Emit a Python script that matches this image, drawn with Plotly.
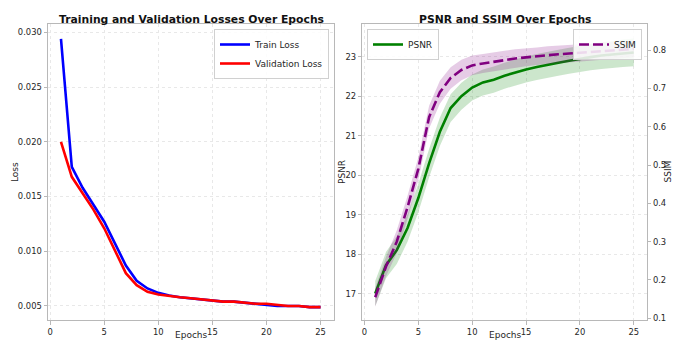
import plotly.graph_objects as go

epochs = [1, 2, 3, 4, 5, 6, 7, 8, 9, 10, 11, 12, 13, 14, 15, 16, 17, 18, 19, 20, 21, 22, 23, 24, 25]
train_loss = [0.0294, 0.0177, 0.0158, 0.0143, 0.0127, 0.0107, 0.0087, 0.0073, 0.0066, 0.0062,
              0.00595, 0.0058, 0.0057, 0.0056, 0.00548, 0.0054, 0.0054, 0.0053, 0.0052, 0.0051,
              0.0050, 0.0050, 0.0050, 0.0049, 0.0049]
val_loss = [0.0200, 0.0168, 0.0153, 0.0138, 0.0121, 0.0101, 0.0080, 0.0069, 0.0063, 0.00605,
            0.0059, 0.0058, 0.0057, 0.0056, 0.00548, 0.0054, 0.0054, 0.0053, 0.0052, 0.0052,
            0.0051, 0.0050, 0.0050, 0.0049, 0.0049]
psnr = [17.0, 17.72, 18.1, 18.66, 19.42, 20.3, 21.1, 21.7, 22.0, 22.22, 22.35, 22.42, 22.52,
        22.6, 22.68, 22.74, 22.8, 22.85, 22.9, 22.95, 22.99, 23.03, 23.06, 23.09, 23.11]
psnr_std = [0.32, 0.33, 0.35, 0.35, 0.36, 0.36, 0.36, 0.35, 0.34, 0.33, 0.33, 0.33, 0.33,
            0.33, 0.33, 0.33, 0.33, 0.33, 0.33, 0.33, 0.33, 0.34, 0.34, 0.35, 0.35]
ssim = [0.155, 0.235, 0.30, 0.39, 0.49, 0.625, 0.69, 0.727, 0.748, 0.76, 0.765, 0.77, 0.774,
        0.778, 0.781, 0.784, 0.787, 0.789, 0.791, 0.793, 0.795, 0.797, 0.799, 0.801, 0.803]
ssim_std = [0.025, 0.025, 0.03, 0.03, 0.03, 0.03, 0.03, 0.028, 0.027, 0.026, 0.025, 0.025, 0.024,
            0.024, 0.023, 0.023, 0.023, 0.022, 0.022, 0.022, 0.022, 0.022, 0.022, 0.022, 0.022]

W, H = 673, 341
FONT = "DejaVu Sans"
TXT = "#262626"


def px(x):
    return x / W


def py(y):
    return 1 - y / H


fig = go.Figure()

# Left: losses
fig.add_trace(go.Scatter(x=epochs, y=train_loss, mode="lines", name="Train Loss",
                         line=dict(color="#0000ff", width=2.6), xaxis="x", yaxis="y",
                         legend="legend"))
fig.add_trace(go.Scatter(x=epochs, y=val_loss, mode="lines", name="Validation Loss",
                         line=dict(color="#ff0000", width=2.6), xaxis="x", yaxis="y",
                         legend="legend"))

# Right: PSNR band + line
p_lo = [m - s for m, s in zip(psnr, psnr_std)]
p_hi = [m + s for m, s in zip(psnr, psnr_std)]
fig.add_trace(go.Scatter(x=epochs + epochs[::-1], y=p_hi + p_lo[::-1], fill="toself",
                         fillcolor="rgba(0,128,0,0.2)", line=dict(width=0), mode="lines",
                         hoverinfo="skip", showlegend=False, xaxis="x2", yaxis="y2"))
fig.add_trace(go.Scatter(x=epochs, y=psnr, mode="lines", name="PSNR",
                         line=dict(color="#008000", width=2.6), xaxis="x2", yaxis="y2",
                         legend="legend2"))

# SSIM band + line
s_lo = [m - s for m, s in zip(ssim, ssim_std)]
s_hi = [m + s for m, s in zip(ssim, ssim_std)]
fig.add_trace(go.Scatter(x=epochs + epochs[::-1], y=s_hi + s_lo[::-1], fill="toself",
                         fillcolor="rgba(128,0,128,0.2)", line=dict(width=0), mode="lines",
                         hoverinfo="skip", showlegend=False, xaxis="x2", yaxis="y3"))
fig.add_trace(go.Scatter(x=epochs, y=ssim, mode="lines", name="SSIM",
                         line=dict(color="#800080", width=2.6, dash="10px,4px"),
                         xaxis="x2", yaxis="y3", legend="legend3"))

axis_common = dict(
    showline=True, mirror=True, linecolor="#b8b8b8", linewidth=1,
    showgrid=True, gridcolor="#e8e8e8", griddash="dot", gridwidth=1,
    zeroline=False, ticks="outside", ticklen=3.5, tickcolor="#b8b8b8",
    tickfont=dict(family=FONT, size=8.4, color=TXT), automargin=False,
)

ytop, ybot = py(24), py(320)

fig.update_layout(
    width=W, height=H,
    margin=dict(l=0, r=0, t=0, b=0),
    paper_bgcolor="white", plot_bgcolor="white",
    font=dict(family=FONT, color=TXT),
    xaxis=dict(domain=[px(48), px(333.5)], range=[-0.2, 26.2], tickvals=[0, 5, 10, 15, 20, 25],
               anchor="y", **axis_common),
    yaxis=dict(domain=[ybot, ytop], range=[0.00372, 0.03076],
               tickvals=[0.005, 0.010, 0.015, 0.020, 0.025, 0.030], tickformat=".3f",
               anchor="x", **axis_common),
    xaxis2=dict(domain=[px(362.3), px(646.7)], range=[-0.2, 26.2],
                tickvals=[0, 5, 10, 15, 20, 25], anchor="y2", **axis_common),
    yaxis2=dict(domain=[ybot, ytop], range=[16.33, 23.83], tickvals=[17, 18, 19, 20, 21, 22, 23],
                anchor="x2", **axis_common),
    yaxis3=dict(range=[0.0956, 0.868], tickvals=[0.1, 0.2, 0.3, 0.4, 0.5, 0.6, 0.7, 0.8],
                tickformat=".1f", overlaying="y2", side="right", anchor="x2",
                showgrid=False, zeroline=False, showline=False, ticks="outside", ticklen=3.5,
                tickcolor="#b8b8b8", tickfont=dict(family=FONT, size=8.4, color=TXT),
                automargin=False),
    legend=dict(x=px(329), y=py(29), xanchor="right", yanchor="top",
                bgcolor="rgba(255,255,255,0.85)", bordercolor="#d0d0d0", borderwidth=1,
                font=dict(family=FONT, size=9, color=TXT), tracegroupgap=0,
                itemwidth=30),
    legend2=dict(x=px(367), y=py(29), xanchor="left", yanchor="top",
                 bgcolor="rgba(255,255,255,0.85)", bordercolor="#d0d0d0", borderwidth=1,
                 font=dict(family=FONT, size=9, color=TXT), itemwidth=30),
    legend3=dict(x=px(642), y=py(29), xanchor="right", yanchor="top",
                 bgcolor="rgba(255,255,255,0.85)", bordercolor="#d0d0d0", borderwidth=1,
                 font=dict(family=FONT, size=9, color=TXT), itemwidth=30),
    showlegend=True,
)

ann = [
    dict(text="<b>Training and Validation Losses Over Epochs</b>", x=px(191), y=py(19.5),
         font=dict(size=10.8, color="#111111")),
    dict(text="<b>PSNR and SSIM Over Epochs</b>", x=px(505), y=py(19.5),
         font=dict(size=10.8, color="#111111")),
    dict(text="Epochs", x=px(191), y=py(334.5), font=dict(size=9, color=TXT)),
    dict(text="Epochs", x=px(505), y=py(334.5), font=dict(size=9, color=TXT)),
    dict(text="Loss", x=px(15), y=py(172), textangle=-90, font=dict(size=9, color=TXT)),
    dict(text="PSNR", x=px(342), y=py(172), textangle=-90, font=dict(size=9, color=TXT)),
    dict(text="SSIM", x=px(667.5), y=py(172), textangle=-90, font=dict(size=9, color=TXT)),
]
for a in ann:
    a.update(xref="paper", yref="paper", showarrow=False, xanchor="center", yanchor="middle")
    a["font"]["family"] = FONT
fig.update_layout(annotations=ann)

fig.write_html("out.html", config={"displayModeBar": False},
               post_script="document.body.style.margin='0';document.body.style.overflow='hidden';")
